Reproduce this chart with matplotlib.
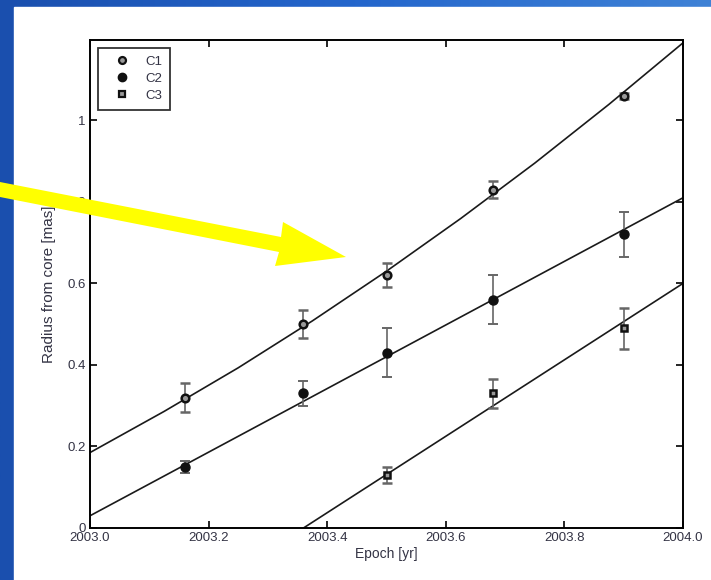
import numpy as np
import matplotlib
matplotlib.use("Agg")
import matplotlib.pyplot as plt
from matplotlib.patches import Polygon, Rectangle
from matplotlib.lines import Line2D
from matplotlib.colors import LinearSegmentedColormap

plt.rcParams["font.family"] = ["Liberation Sans", "DejaVu Sans"]

# C1 (open circles)
c1_epoch = [2003.16, 2003.36, 2003.50, 2003.68, 2003.90]
c1_radius = [0.32, 0.50, 0.62, 0.83, 1.06]
c1_err = [0.035, 0.035, 0.030, 0.020, 0.008]

# C2 (filled circles)
c2_epoch = [2003.16, 2003.36, 2003.50, 2003.68, 2003.90]
c2_radius = [0.15, 0.33, 0.43, 0.56, 0.72]
c2_err = [0.015, 0.030, 0.060, 0.060, 0.055]

# C3 (squares)
c3_epoch = [2003.50, 2003.68, 2003.90]
c3_radius = [0.13, 0.33, 0.49]
c3_err = [0.020, 0.035, 0.050]

# fitted motion lines
fit1_epoch = [2003.0, 2003.125, 2003.25, 2003.375, 2003.5, 2003.625, 2003.75, 2003.875, 2004.0]
fit1_radius = [0.185, 0.286, 0.393, 0.508, 0.630, 0.759, 0.895, 1.039, 1.190]
fit2_epoch = [2003.0, 2003.5, 2004.0]
fit2_radius = [0.030, 0.420, 0.810]
fit3_epoch = [2003.36, 2004.0]
fit3_radius = [0.0, 0.60]

x_ticks = [2003.0, 2003.2, 2003.4, 2003.6, 2003.8, 2004.0]
y_ticks = [0, 0.2, 0.4, 0.6, 0.8, 1.0]
y_tick_labels = ["0", "0.2", "0.4", "0.6", "0.8", "1"]

W, H = 711, 580
fig = plt.figure(figsize=(W / 100, H / 100), dpi=100)

# slide background: blue frame with white panel
bg = fig.add_axes([0, 0, 1, 1], zorder=-10)
bg.set_axis_off()
cmap = LinearSegmentedColormap.from_list("slide", ["#1a4fae", "#2466cc", "#3f82d6"])
grad = np.linspace(0, 1, 256).reshape(1, -1)
bg.imshow(grad, cmap=cmap, aspect="auto", extent=[0, W, 0, H])
bg.add_patch(Rectangle((14, 0), W - 14, H - 7, color="white"))
bg.set_xlim(0, W)
bg.set_ylim(0, H)

ax = fig.add_axes([90 / W, 1 - 528 / H, (683 - 90) / W, (528 - 40) / H])

line_style = dict(color="#1a1a1a", lw=1.2, zorder=2)
ax.plot(fit1_epoch, fit1_radius, **line_style)
ax.plot(fit2_epoch, fit2_radius, **line_style)
ax.plot(fit3_epoch, fit3_radius, **line_style)

eb = dict(ecolor="#666666", elinewidth=1.2, capsize=3.5, capthick=1.4, zorder=3, linestyle="none")
ax.errorbar(c1_epoch, c1_radius, yerr=c1_err, fmt="o", mfc="#999999", mec="#111111",
            mew=1.8, ms=5.5, **eb)
ax.errorbar(c2_epoch, c2_radius, yerr=c2_err, fmt="o", mfc="#111111", mec="#111111",
            ms=6.5, **eb)
ax.errorbar(c3_epoch, c3_radius, yerr=c3_err, fmt="s", mfc="#999999", mec="#111111",
            mew=1.8, ms=5, **eb)

ax.set_xlim(2003.0, 2004.0)
ax.set_ylim(0, 1.197)
ax.set_xticks(x_ticks)
ax.set_xticklabels([f"{v:.1f}" for v in x_ticks])
ax.set_yticks(y_ticks)
ax.set_yticklabels(y_tick_labels)
ax.tick_params(direction="in", top=True, right=True, length=5, width=1.2,
               labelsize=9.5, labelcolor="#333344", pad=3)
for s in ax.spines.values():
    s.set_linewidth(1.4)
ax.set_xlabel("Epoch [yr]", fontsize=10, color="#333344", labelpad=2)
ax.set_ylabel("Radius from core [mas]", fontsize=11, color="#333344", labelpad=8)

handles = [
    Line2D([], [], ls="none", marker="o", mfc="#999999", mec="#111111", mew=1.6, ms=5),
    Line2D([], [], ls="none", marker="o", mfc="#111111", mec="#111111", ms=6),
    Line2D([], [], ls="none", marker="s", mfc="#999999", mec="#111111", mew=1.6, ms=4.5),
]
leg = ax.legend(handles, ["C1", "C2", "C3"], loc="upper left", fontsize=9.5,
                frameon=True, fancybox=False, edgecolor="black", borderpad=0.6,
                handletextpad=0.6, handlelength=2.4, labelspacing=0.35,
                borderaxespad=0.6)
leg.get_frame().set_linewidth(1.3)
for t in leg.get_texts():
    t.set_color("#333344")

# yellow arrow over the chart (pixel coordinates, origin top-left)
arrow_px = [(0, 182), (281, 237), (283, 222), (346, 257), (275, 266), (279, 252), (0, 197)]
arrow = Polygon([(x / W, 1 - y / H) for x, y in arrow_px], closed=True,
                transform=fig.transFigure, facecolor="#ffff00", edgecolor="none", zorder=20)
fig.patches.append(arrow)

fig.savefig("out.png", dpi=100)
